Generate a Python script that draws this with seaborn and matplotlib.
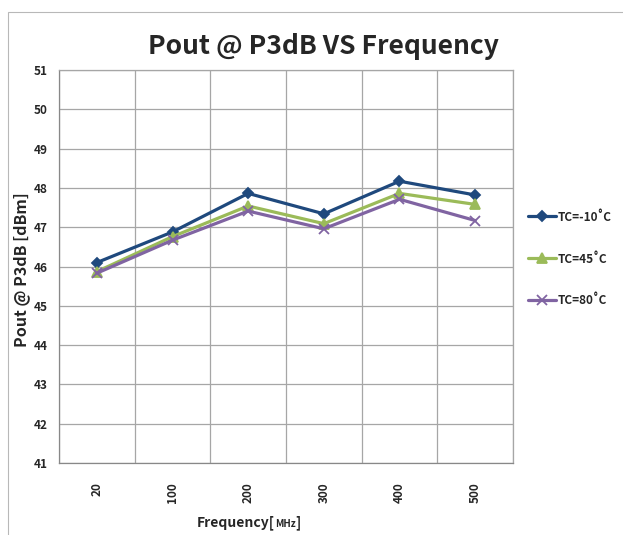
import matplotlib
matplotlib.use("Agg")
import matplotlib.pyplot as plt
import seaborn as sns
import pandas as pd
from matplotlib.patches import Rectangle

freqs = ["20", "100", "200", "300", "400", "500"]
tc_m10 = [46.10, 46.88, 47.86, 47.34, 48.17, 47.82]
tc_45 = [45.87, 46.76, 47.54, 47.09, 47.86, 47.58]
tc_80 = [45.83, 46.67, 47.41, 46.96, 47.71, 47.17]
series_names = ["TC=-10˚C", "TC=45˚C", "TC=80˚C"]

df = pd.DataFrame({
    "freq": freqs * 3,
    "pout": tc_m10 + tc_45 + tc_80,
    "series": [n for n in series_names for _ in freqs],
})

sns.set_style("white")
plt.rcParams["font.family"] = ["Noto Sans CJK KR", "DejaVu Sans"]
plt.rcParams["font.weight"] = "bold"

fig = plt.figure(figsize=(6.23, 5.35), dpi=100)
ax = fig.add_axes([59 / 623, 1 - 463 / 535, 454 / 623, 393 / 535])

# outer chart frame
fig.patches.append(Rectangle((8 / 623, -0.01), 0.99, 1 - 12 / 535 + 0.01,
                             transform=fig.transFigure, fill=False,
                             edgecolor="#b8b8b8", linewidth=0.8))

palette = {"TC=-10˚C": "#1f497d", "TC=45˚C": "#9bbb59", "TC=80˚C": "#8064a2"}
markers = {"TC=-10˚C": "D", "TC=45˚C": "^", "TC=80˚C": "x"}
sizes = {"TC=-10˚C": 5.5, "TC=45˚C": 7, "TC=80˚C": 7}

for name in series_names:
    sub = df[df["series"] == name]
    sns.lineplot(data=sub, x="freq", y="pout", ax=ax, color=palette[name],
                 marker=markers[name], markersize=sizes[name], linewidth=2.3,
                 markeredgecolor=palette[name], markeredgewidth=1.3,
                 label=name, sort=False)

ax.set_xlim(-0.5, 5.5)
ax.set_ylim(41, 51)
ax.set_yticks(range(41, 52))
ax.set_xticks(range(len(freqs)))
ax.set_xticklabels(freqs, rotation=90, fontsize=8.5, fontweight="bold")
ax.set_xticks([i + 0.5 for i in range(-1, len(freqs))], minor=True)
ax.tick_params(axis="x", which="major", length=0, pad=14)
ax.tick_params(axis="x", which="minor", length=5, color="#888888", width=0.8)
ax.tick_params(axis="y", length=5, color="#888888", width=0.8, labelsize=8.5, pad=3)
for lbl in ax.get_yticklabels():
    lbl.set_fontweight("bold")

ax.grid(True, axis="y", color="#a6a6a6", linewidth=0.9)
ax.grid(True, axis="x", which="minor", color="#a6a6a6", linewidth=0.9)
for side in ["top", "right"]:
    ax.spines[side].set_color("#a6a6a6")
    ax.spines[side].set_linewidth(0.9)
for side in ["left", "bottom"]:
    ax.spines[side].set_color("#888888")
    ax.spines[side].set_linewidth(0.9)

ax.set_xlabel("")
ax.set_ylabel("")
fig.text(22 / 623, 1 - 270 / 535, "Pout @ P3dB [dBm]", fontsize=11.5,
         fontweight="bold", rotation=90, ha="center", va="center")

t1 = fig.text(197 / 623, 1 - 523 / 535, "Frequency[", fontsize=10, fontweight="bold",
              ha="left", va="center")
t2 = ax.annotate("MHz", xy=(1, 0.12), xycoords=t1, fontsize=7, fontweight="bold",
                 va="bottom", ha="left")
ax.annotate("]", xy=(1, -0.12), xycoords=t2, fontsize=10, fontweight="bold",
            va="bottom", ha="left")

fig.text(323 / 623, 1 - 47 / 535, "Pout @ P3dB VS Frequency", fontsize=19,
         fontweight="bold", ha="center", va="center")

leg = ax.legend(loc="center left", bbox_to_anchor=(1.01, 0.519), frameon=False,
                labelspacing=2.45, handlelength=2.4, handletextpad=0.1,
                prop={"size": 8.5, "weight": "bold"})

fig.savefig("out.png", dpi=100)
